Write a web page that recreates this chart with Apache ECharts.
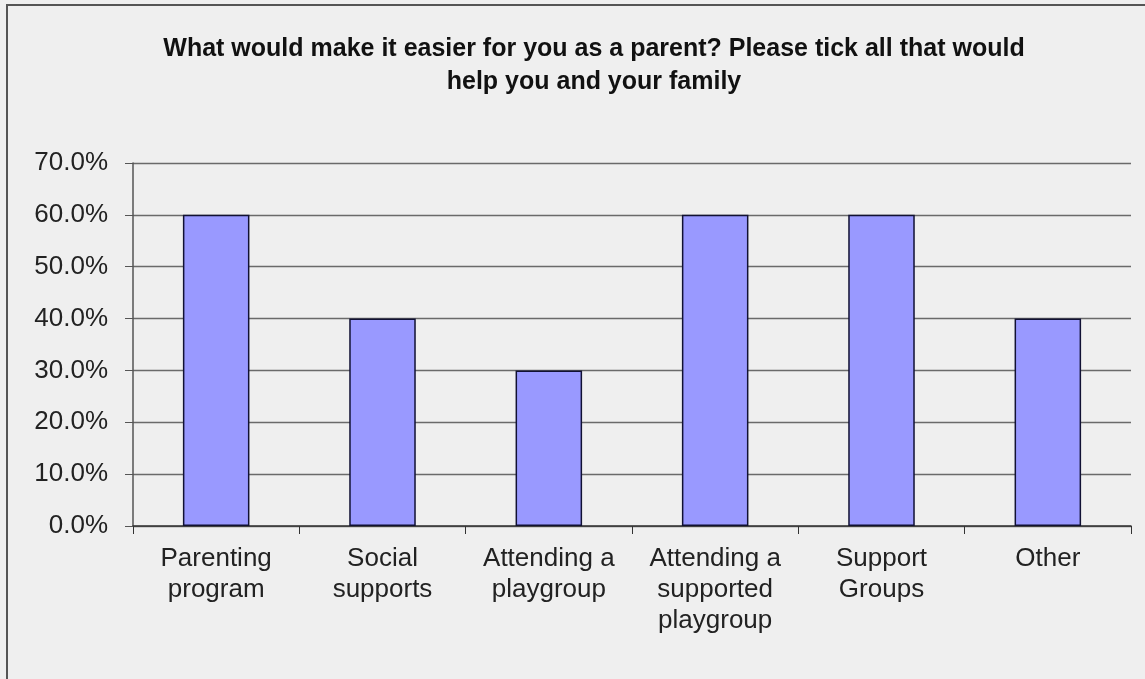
<!DOCTYPE html>
<html>
<head>
<meta charset="utf-8">
<script src="https://cdn.jsdelivr.net/npm/echarts@6/dist/echarts.min.js"></script>
<style>
  html, body { margin: 0; padding: 0; background: #efefef; }
  #chart { width: 1145px; height: 679px; }
</style>
</head>
<body>
<div id="chart"></div>
<script>
// Survey answers: share of respondents ticking each option
const categories = [
  'Parenting\nprogram',
  'Social\nsupports',
  'Attending a\nplaygroup',
  'Attending a\nsupported\nplaygroup',
  'Support\nGroups',
  'Other'
];
const percentValues = [60, 40, 30, 60, 60, 40];
const titleLines = [
  'What would make it easier for you as a parent? Please tick all that would',
  'help you and your family'
];

const chart = echarts.init(document.getElementById('chart'), null, { renderer: 'canvas' });

chart.setOption({
  backgroundColor: '#efefef',
  animation: false,
  title: {
    text: titleLines.join('\n'),
    left: 589,
    top: 28,
    textAlign: 'center',
    textStyle: {
      fontFamily: 'Liberation Sans, Arial, sans-serif',
      fontWeight: 'bold',
      fontSize: 25,
      lineHeight: 33,
      color: '#111'
    }
  },
  graphic: [{
    type: 'rect',
    shape: { x: 7, y: 5, width: 1300, height: 900 },
    style: { fill: 'none', stroke: '#555', lineWidth: 2 },
    silent: true
  }],
  grid: { left: 133, right: 14, top: 163, bottom: 153 },
  xAxis: {
    type: 'category',
    data: categories,
    axisLine: { lineStyle: { color: '#333', width: 1.5 } },
    axisTick: { show: true, alignWithLabel: false, length: 8, lineStyle: { color: '#333' } },
    axisLabel: {
      interval: 0,
      margin: 17,
      fontFamily: 'Liberation Sans, Arial, sans-serif',
      fontSize: 26,
      lineHeight: 31,
      color: '#222'
    }
  },
  yAxis: {
    type: 'value',
    min: 0,
    max: 70,
    interval: 10,
    axisLine: { show: true, lineStyle: { color: '#555', width: 1.5 } },
    axisTick: { show: true, length: 8, lineStyle: { color: '#555' } },
    splitLine: { lineStyle: { color: '#6a6a6a', width: 1.3 } },
    axisLabel: {
      margin: 25,
      formatter: v => v.toFixed(1) + '%',
      fontFamily: 'Liberation Sans, Arial, sans-serif',
      fontSize: 26,
      color: '#222'
    }
  },
  series: [{
    type: 'bar',
    data: percentValues,
    barWidth: '40%',
    itemStyle: {
      color: '#9999ff',
      borderColor: '#111133',
      borderWidth: 1.5
    }
  }]
});
</script>
</body>
</html>
